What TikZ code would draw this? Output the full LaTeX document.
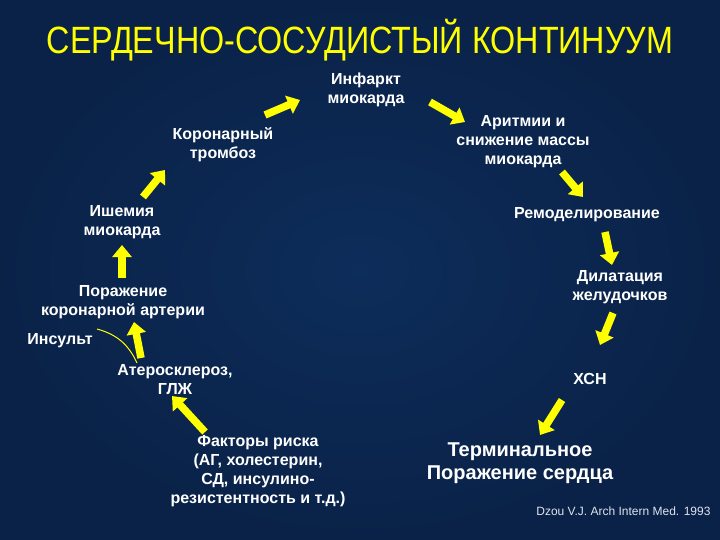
\documentclass[tikz,border=0pt]{standalone}
\usepackage{fontspec}
\setmainfont{Liberation Sans}
\usetikzlibrary{
  arrows.meta,
  positioning
}
\definecolor{cvBack}{HTML}{0D2D5A}
\definecolor{cvBackDark}{HTML}{0A2248}
\definecolor{cvYellow}{HTML}{FFFF00}
\definecolor{cvNote}{HTML}{DDE3EE}
\tikzset{
  stage/.style={
    text=white, font=\bfseries\fontsize{16}{19}\selectfont, align=center, inner sep=2pt
  },
  bigstage/.style={stage, font=\bfseries\fontsize{20}{23}\selectfont},
  headline/.style={text=cvYellow, font=\fontsize{38}{42}\selectfont},
  source/.style={text=cvNote, font=\fontsize{12}{14}\selectfont, anchor=east},
  flowarrow/.style={-{Triangle[length=12pt,width=19pt]}, line width=7.5pt, cvYellow},
  strokeline/.style={cvYellow, line width=1pt}
}

\begin{document}
\begin{tikzpicture}[x=1pt, y=-1pt]
  \shade[inner color=cvBack, outer color=cvBackDark] (0,0) rectangle (720,540);
  \useasboundingbox (0,0) rectangle (720,540);

  \node[headline] (title) at (360,40) {\scalebox{0.85}[1]{СЕРДЕЧНО-СОСУДИСТЫЙ КОНТИНУУМ}};

  % left branch, bottom to top
  \node[stage] (risk) at (258,471) {Факторы риска\\(АГ, холестерин,\\СД, инсулино-\\резистентность и т.д.)};
  \node[stage] (ather) at (175,380) {Атеросклероз,\\ГЛЖ};
  \node[stage] (por) at (123,302) {Поражение\\коронарной артерии};
  \node[stage] (isch) at (122,222) {Ишемия\\миокарда};
  \node[stage] (thromb) at (223,145) {Коронарный\\тромбоз};
  \node[stage] (inf) at (366,90) {Инфаркт\\миокарда};
  \node[stage] (stroke) at (60,341) {Инсульт};

  % right branch, top to bottom
  \node[stage] (arr) at (523,142) {Аритмии и\\снижение массы\\миокарда};
  \node[stage] (remod) at (587,215) {Ремоделирование};
  \node[stage] (dil) at (620,287) {Дилатация\\желудочков};
  \node[stage] (hsn) at (590,379) {ХСН};
  \node[bigstage] (term) at (520,463) {Терминальное\\Поражение сердца};

  \node[source] (cite) at (714,511) {Dzou V.J. Arch Intern Med. 1993};

  \draw[flowarrow] ([shift={(-53,-39)}]risk.center) -- ([shift={(-3,16)}]ather.center);
  \draw[flowarrow] ([shift={(-34,-22)}]ather.center) -- ([shift={(11,20)}]por.center);
  \draw[flowarrow] ([shift={(-1,-24)}]por.center) -- ([shift={(0,23)}]isch.center);
  \draw[flowarrow] ([shift={(21,-25)}]isch.center) -- ([shift={(-58,25)}]thromb.center);
  \draw[flowarrow] ([shift={(42,-30)}]thromb.center) -- ([shift={(-66,10)}]inf.center);
  \draw[flowarrow] ([shift={(64,12)}]inf.center) -- ([shift={(-58,-20)}]arr.center);
  \draw[flowarrow] ([shift={(39,30)}]arr.center) -- ([shift={(-4,-18)}]remod.center);
  \draw[flowarrow] ([shift={(18,17)}]remod.center) -- ([shift={(-8,-22)}]dil.center);
  \draw[flowarrow] ([shift={(-7,26)}]dil.center) -- ([shift={(10,-34)}]hsn.center);
  \draw[flowarrow] ([shift={(-28,21)}]hsn.center) -- ([shift={(20,-28)}]term.center);

  \draw[strokeline] ([shift={(37,-12)}]stroke.center) to[bend left=25] ([shift={(-38,-17)}]ather.center);
\end{tikzpicture}
\end{document}
